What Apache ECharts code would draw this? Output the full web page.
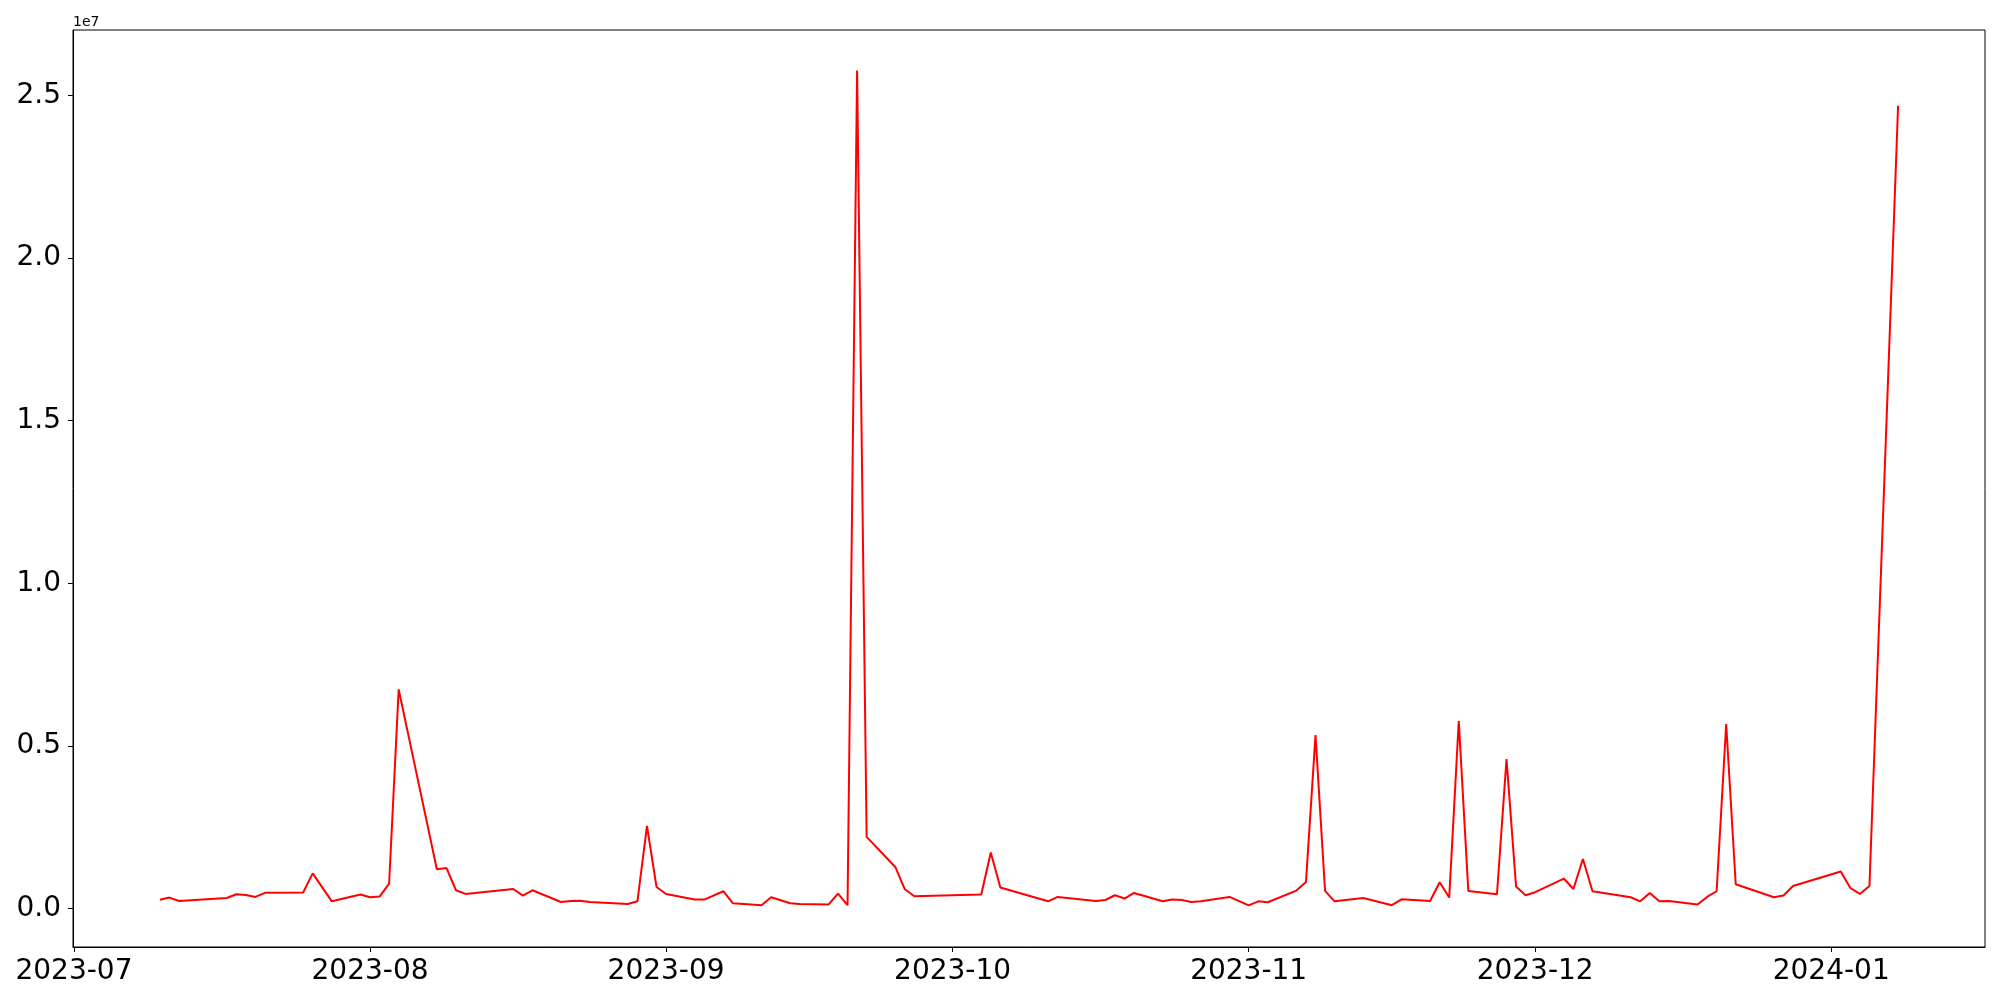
<!DOCTYPE html>
<html>
<head>
<meta charset="utf-8">
<script src="https://cdn.jsdelivr.net/npm/echarts@6/dist/echarts.min.js"></script>
<style>
html,body{margin:0;padding:0;background:#fff;}
#chart{width:2000px;height:1000px;}
</style>
</head>
<body>
<div id="chart"></div>
<script>
// ---- data ----
const dates = [
  '2023-07-10','2023-07-11','2023-07-12','2023-07-17','2023-07-18','2023-07-19','2023-07-20','2023-07-21',
  '2023-07-25','2023-07-26','2023-07-28','2023-07-31','2023-08-01','2023-08-02','2023-08-03','2023-08-04',
  '2023-08-08','2023-08-09','2023-08-10','2023-08-11','2023-08-16','2023-08-17','2023-08-18','2023-08-21',
  '2023-08-22','2023-08-23','2023-08-24','2023-08-28','2023-08-29','2023-08-30','2023-08-31','2023-09-01',
  '2023-09-04','2023-09-05','2023-09-07','2023-09-08','2023-09-11','2023-09-12','2023-09-14','2023-09-15',
  '2023-09-18','2023-09-19','2023-09-20','2023-09-21','2023-09-22','2023-09-25','2023-09-26','2023-09-27',
  '2023-10-04','2023-10-05','2023-10-06','2023-10-11','2023-10-12','2023-10-16','2023-10-17','2023-10-18',
  '2023-10-19','2023-10-20','2023-10-23','2023-10-24','2023-10-25','2023-10-26','2023-10-27','2023-10-30',
  '2023-11-01','2023-11-02','2023-11-03','2023-11-06','2023-11-07','2023-11-08','2023-11-09','2023-11-10',
  '2023-11-13','2023-11-16','2023-11-17','2023-11-20','2023-11-21','2023-11-22','2023-11-23','2023-11-24',
  '2023-11-27','2023-11-28','2023-11-29','2023-11-30','2023-12-01','2023-12-04','2023-12-05','2023-12-06',
  '2023-12-07','2023-12-11','2023-12-12','2023-12-13','2023-12-14','2023-12-15','2023-12-18','2023-12-19',
  '2023-12-20','2023-12-21','2023-12-22','2023-12-26','2023-12-27','2023-12-28','2024-01-02','2024-01-03',
  '2024-01-04','2024-01-05','2024-01-08'
];
const values = [
  270000, 335000, 230000, 323000, 437000, 416000, 355000, 480000,
  490000, 1080000, 220000, 427000, 345000, 366000, 766000, 6735000,
  1206000, 1247000, 560000, 447000, 600000, 397000, 560000, 200000,
  230000, 235000, 200000, 140000, 220000, 2540000, 660000, 446000,
  273000, 273000, 530000, 160000, 100000, 345000, 160000, 140000,
  120000, 458000, 100000, 25760000, 2200000, 1277000, 590000, 375000,
  427000, 1720000, 643000, 220000, 355000, 230000, 260000, 406000,
  305000, 477000, 220000, 273000, 260000, 200000, 220000, 355000,
  95000, 220000, 190000, 550000, 816000, 5330000, 540000, 220000,
  323000, 100000, 280000, 230000, 806000, 335000, 5760000, 540000,
  437000, 4590000, 674000, 406000, 500000, 920000, 600000, 1520000,
  530000, 345000, 220000, 477000, 220000, 230000, 120000, 355000,
  530000, 5670000, 745000, 345000, 397000, 690000, 1135000, 630000,
  446000, 690000, 24680000
];
const xTickLabels = ['2023-07','2023-08','2023-09','2023-10','2023-11','2023-12','2024-01'];
const yTickValues = [0, 5000000, 10000000, 15000000, 20000000, 25000000];

// ---- build options ----
function ts(s){ const p = s.split('-').map(Number); return Date.UTC(p[0], p[1]-1, p[2] || 1); }
const xTicks = xTickLabels.map(ts);
const seriesData = dates.map((d, i) => [ts(d), values[i]]);
const DAY = 86400000;
const xMin = ts('2023-07-01') - 0.1 * DAY;
const xMax = ts('2024-01-08') + 9.1 * DAY;
const FONT = 'DejaVu Sans';

const chart = echarts.init(document.getElementById('chart'), null, {renderer: 'canvas'});
chart.setOption({
  animation: false,
  backgroundColor: '#fff',
  grid: {left: 73, right: 15, top: 30, bottom: 53, show: true, borderColor: '#000', borderWidth: 1, backgroundColor: 'transparent'},
  xAxis: {
    type: 'value',
    min: xMin,
    max: xMax,
    axisLine: {show: true, onZero: false, lineStyle: {color: '#000', width: 1}},
    axisTick: {show: true, length: 5, lineStyle: {color: '#000', width: 1}, customValues: xTicks},
    axisLabel: {
      show: true, customValues: xTicks, margin: 11,
      fontFamily: FONT, fontSize: 28, color: '#000',
      formatter: function (v) {
        const d = new Date(v);
        return d.getUTCFullYear() + '-' + String(d.getUTCMonth() + 1).padStart(2, '0');
      }
    },
    splitLine: {show: false}
  },
  yAxis: {
    type: 'value',
    min: -1184500,
    max: 27009000,
    axisLine: {show: true, onZero: false, lineStyle: {color: '#000', width: 1}},
    axisTick: {show: true, length: 5, lineStyle: {color: '#000', width: 1}, customValues: yTickValues},
    axisLabel: {
      show: true, customValues: yTickValues, margin: 12,
      fontFamily: FONT, fontSize: 28, color: '#000',
      formatter: function (v) { return (v / 1e7).toFixed(1); }
    },
    splitLine: {show: false}
  },
  graphic: [{
    type: 'text', left: 73, top: 15,
    style: {text: '1e7', fontFamily: FONT, fontSize: 14, fill: '#000'}
  }],
  series: [{
    type: 'line',
    data: seriesData,
    showSymbol: false,
    symbol: 'none',
    lineStyle: {color: '#ff0000', width: 2},
    itemStyle: {color: '#ff0000'}
  }]
});
</script>
</body>
</html>
